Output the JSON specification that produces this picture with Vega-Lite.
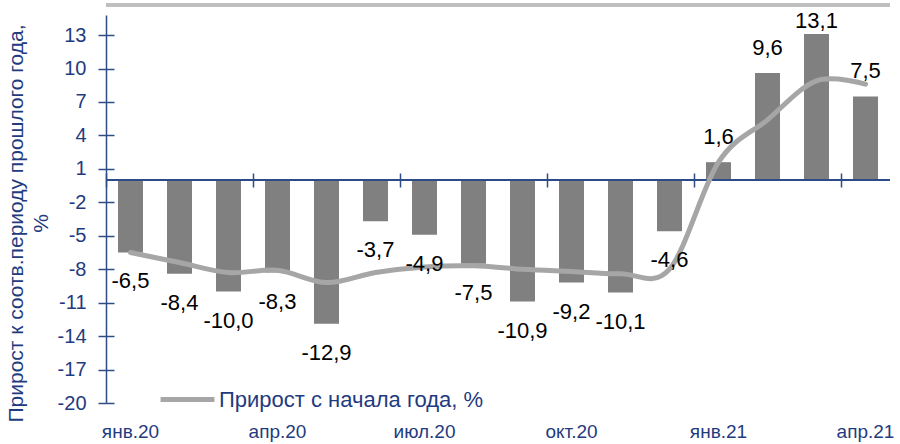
{
  "$schema": "https://vega.github.io/schema/vega-lite/v6.json",
  "autosize": {"type": "none"},
  "padding": {"left": 106, "top": 15, "right": 10, "bottom": 41},
  "width": 784,
  "height": 388,
  "background": "white",
  "config": {
    "view": {"stroke": null},
    "locale": {"number": {"decimal": ",", "thousands": " ", "grouping": [3], "currency": ["", ""], "minus": "-"}},
    "font": "Liberation Sans"
  },
  "data": {
    "values": [
      {"month": "янв.20", "yoy": -6.5, "ytd": -6.5, "series": "Прирост  с начала года, %"},
      {"month": "фев.20", "yoy": -8.4, "ytd": -7.4, "series": "Прирост  с начала года, %"},
      {"month": "мар.20", "yoy": -10.0, "ytd": -8.3, "series": "Прирост  с начала года, %"},
      {"month": "апр.20", "yoy": -8.3, "ytd": -8.1, "series": "Прирост  с начала года, %"},
      {"month": "май.20", "yoy": -12.9, "ytd": -9.2, "series": "Прирост  с начала года, %"},
      {"month": "июн.20", "yoy": -3.7, "ytd": -8.3, "series": "Прирост  с начала года, %"},
      {"month": "июл.20", "yoy": -4.9, "ytd": -7.8, "series": "Прирост  с начала года, %"},
      {"month": "авг.20", "yoy": -7.5, "ytd": -7.7, "series": "Прирост  с начала года, %"},
      {"month": "сен.20", "yoy": -10.9, "ytd": -8.0, "series": "Прирост  с начала года, %"},
      {"month": "окт.20", "yoy": -9.2, "ytd": -8.2, "series": "Прирост  с начала года, %"},
      {"month": "ноя.20", "yoy": -10.1, "ytd": -8.4, "series": "Прирост  с начала года, %"},
      {"month": "дек.20", "yoy": -4.6, "ytd": -8.0, "series": "Прирост  с начала года, %"},
      {"month": "янв.21", "yoy": 1.6, "ytd": 1.6, "series": "Прирост  с начала года, %"},
      {"month": "фев.21", "yoy": 9.6, "ytd": 5.4, "series": "Прирост  с начала года, %"},
      {"month": "мар.21", "yoy": 13.1, "ytd": 8.9, "series": "Прирост  с начала года, %"},
      {"month": "апр.21", "yoy": 7.5, "ytd": 8.6, "series": "Прирост  с начала года, %"}
    ]
  },
  "resolve": {"axis": {"x": "independent", "y": "independent"}},
  "layer": [
    {
      "mark": {"type": "rule", "color": "#BFBFBF", "strokeWidth": 2.5},
      "encoding": {"y": {"datum": 15.7, "axis": null}}
    },
    {
      "mark": {"type": "bar", "color": "#808080", "width": {"band": 0.51}},
      "encoding": {
        "x": {
          "field": "month", "type": "nominal", "sort": null,
          "scale": {"paddingInner": 0, "paddingOuter": 0},
          "axis": {
            "orient": "bottom", "title": null, "domain": false, "ticks": false,
            "values": ["янв.20", "апр.20", "июл.20", "окт.20", "янв.21", "апр.21"],
            "labelAngle": 0, "labelFontSize": 19, "labelColor": "#1F3B80", "labelPadding": 19
          }
        },
        "y": {
          "field": "yoy", "type": "quantitative",
          "scale": {"domain": [-20, 14.8], "nice": false, "zero": false},
          "axis": {
            "orient": "left",
            "values": [-20, -17, -14, -11, -8, -5, -2, 1, 4, 7, 10, 13],
            "grid": false, "domainColor": "#2E4D87", "domainWidth": 1.5,
            "tickColor": "#2E4D87", "tickWidth": 1.5, "tickSize": 8,
            "labelFontSize": 20, "labelColor": "#1F3B80", "labelPadding": 12,
            "title": ["Прирост к соотв.периоду прошлого года,", "%"],
            "titleFontSize": 21, "titleFontWeight": "normal", "titleColor": "#1F3B80",
            "titlePadding": 6, "titleLineHeight": 25, "titleY": 208
          }
        }
      }
    },
    {
      "mark": {"type": "rule", "color": "#2E4D87", "strokeWidth": 1.5},
      "encoding": {"y": {"datum": 0, "axis": null}}
    },
    {
      "mark": {"type": "line", "color": "#A6A6A6", "strokeWidth": 5, "interpolate": "cardinal", "strokeCap": "round"},
      "encoding": {
        "x": {
          "field": "month", "type": "nominal", "sort": null,
          "axis": {
            "orient": "top", "offset": -172, "title": null, "labels": false, "domain": false,
            "values": ["янв.20", "апр.20", "июл.20", "окт.20", "янв.21", "апр.21"],
            "bandPosition": 0, "tickSize": 14, "tickColor": "#2E4D87", "tickWidth": 1.5
          }
        },
        "y": {
          "field": "ytd", "type": "quantitative",
          "axis": {
            "orient": "left", "offset": -8, "title": null, "labels": false, "domain": false,
            "values": [-20, -17, -14, -11, -8, -5, -2, 1, 4, 7, 10, 13],
            "grid": false, "tickSize": 8, "tickColor": "#2E4D87", "tickWidth": 1.5
          }
        },
        "color": {
          "field": "series", "type": "nominal",
          "scale": {"range": ["#A6A6A6"]},
          "legend": {
            "title": null, "orient": "none", "legendX": 52, "legendY": 355,
            "symbolType": "stroke", "symbolSize": 2900, "symbolStrokeWidth": 5,
            "labelFontSize": 22, "labelColor": "#1F3B80", "labelOffset": 2, "labelLimit": 0
          }
        }
      }
    },
    {
      "transform": [{"filter": "datum.yoy < 0"}],
      "mark": {"type": "text", "fontSize": 22, "color": "#000000", "baseline": "middle", "dy": 29},
      "encoding": {
        "x": {"field": "month", "type": "nominal", "sort": null, "axis": null},
        "y": {"field": "yoy", "type": "quantitative", "axis": null},
        "text": {"field": "yoy", "type": "quantitative", "format": ".1f"}
      }
    },
    {
      "transform": [{"filter": "datum.yoy >= 0 && datum.yoy < 12"}],
      "mark": {"type": "text", "fontSize": 22, "color": "#000000", "baseline": "middle", "dy": -25},
      "encoding": {
        "x": {"field": "month", "type": "nominal", "sort": null, "axis": null},
        "y": {"field": "yoy", "type": "quantitative", "axis": null},
        "text": {"field": "yoy", "type": "quantitative", "format": ".1f"}
      }
    },
    {
      "transform": [{"filter": "datum.yoy >= 12"}],
      "mark": {"type": "text", "fontSize": 22, "color": "#000000", "baseline": "middle", "dy": -13},
      "encoding": {
        "x": {"field": "month", "type": "nominal", "sort": null, "axis": null},
        "y": {"field": "yoy", "type": "quantitative", "axis": null},
        "text": {"field": "yoy", "type": "quantitative", "format": ".1f"}
      }
    }
  ]
}
